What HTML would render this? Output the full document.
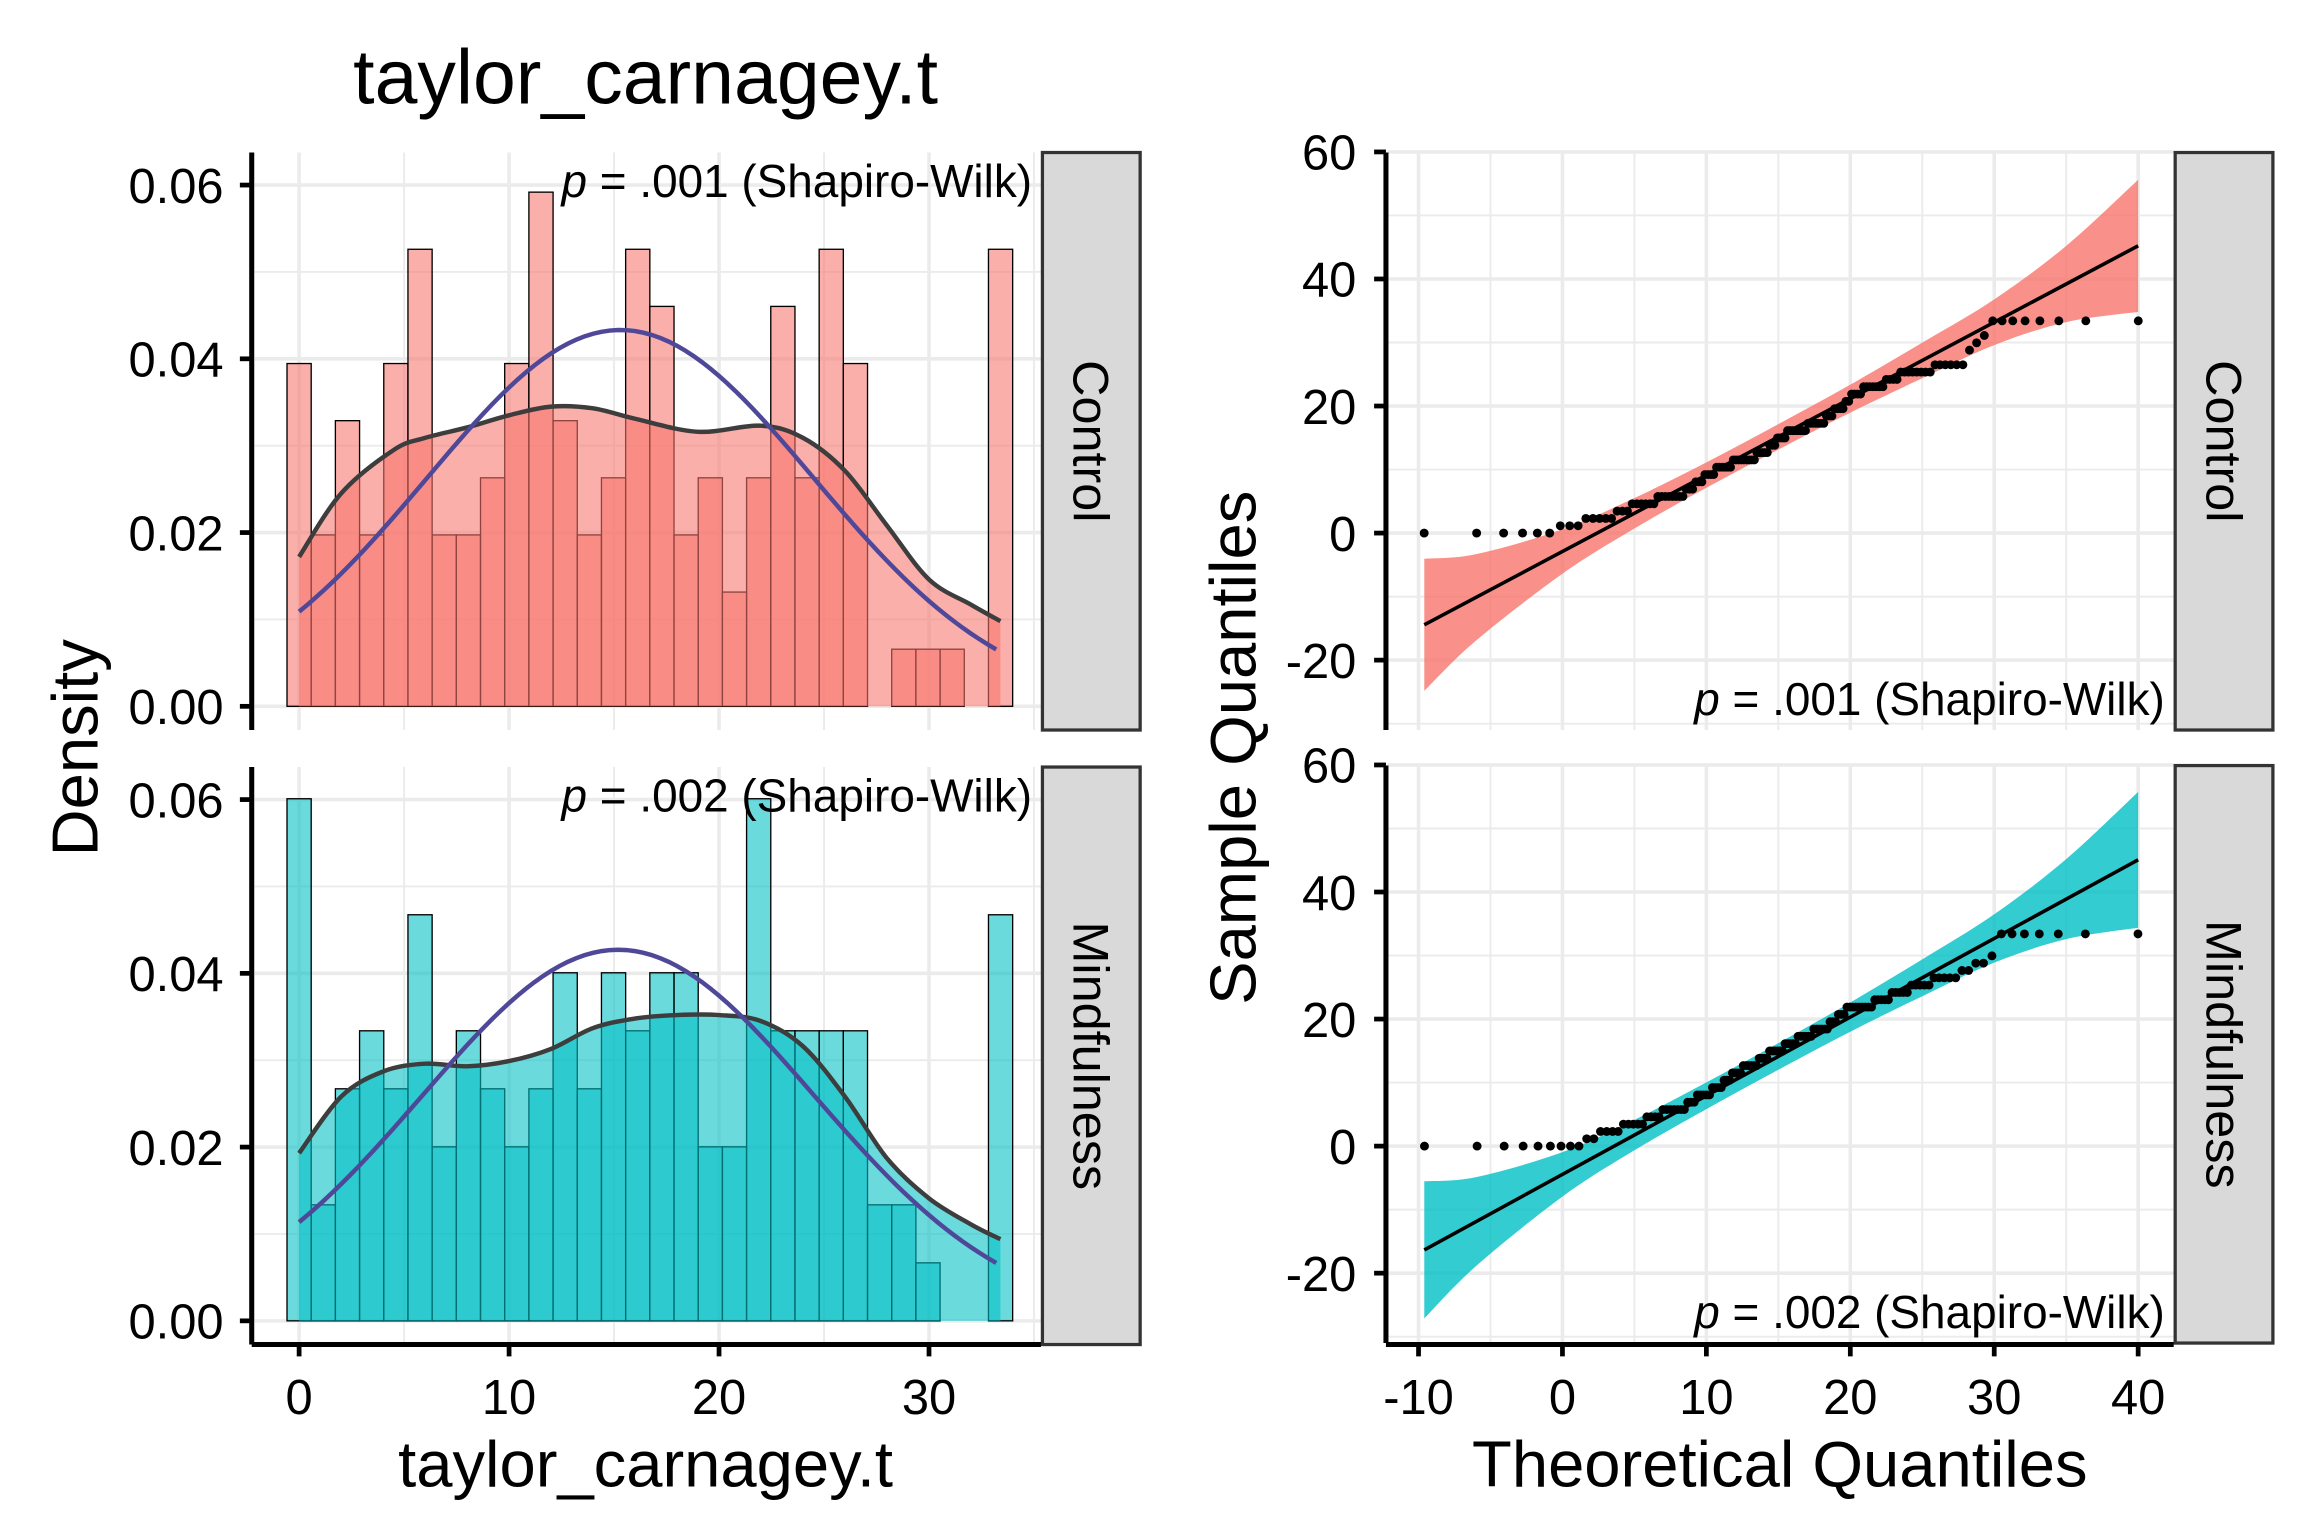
<!DOCTYPE html>
<html><head><meta charset="utf-8"><style>
html,body{margin:0;padding:0;background:#fff;width:2304px;height:1536px;overflow:hidden}
svg{display:block}
text{font-family:"Liberation Sans",sans-serif;fill:#000}
</style></head><body>
<svg id="chart" width="2304" height="1536" viewBox="0 0 1556 1037.3" preserveAspectRatio="none" xmlns="http://www.w3.org/2000/svg"></svg>
<script>
// ---------- data ----------
const groups = ["Control", "Mindfulness"];
const binWidth = 1.152;
const ctrlCounts = [6,3,5,3,6,8,3,3,4,6,9,5,3,4,8,7,3,4,2,4,7,4,8,6,0,1,1,1,0,8];
const mindCounts = [9,2,4,5,4,7,3,5,4,3,4,6,4,6,5,6,6,3,3,9,5,5,5,5,2,2,1,0,0,7];
const ctrlKdeX = [0,2,4.5,6,8,10,12,14,16,19,22,24,26,28,30,32,33.4];
const ctrlKdeY = [0.0172,0.0245,0.0295,0.0309,0.0321,0.0335,0.0345,0.0343,0.0331,0.0316,0.0323,0.0309,0.0271,0.0208,0.0146,0.0117,0.0098];
const mindKdeX = [0,2,4,6,8,10,12,14,16,18,20,22,24,26,28,30,32,33.4];
const mindKdeY = [0.0193,0.0258,0.0287,0.0296,0.0293,0.0299,0.0313,0.0337,0.0348,0.0352,0.0352,0.0345,0.0316,0.0258,0.0187,0.0141,0.0111,0.0094];
const normMean = [15.3, 15.2];
const normSd = [9.21, 9.34];
const qqMean = [15.2, 15.2];
const qqSd = [9.29, 9.3];
const qqIntercept = [-2.9, -4.45];
const qqSlope = [1.203, 1.238];
const bandX = [-9.6,-6,0,5,10,15,20,25,30,35,40];
const ctrlBandHalf = [10.4,6.8,3.5,2.4,2.0,2.0,2.2,2.8,3.6,6.0,10.4];
const mindBandHalf = [10.8,7.0,3.5,2.4,2.1,2.1,2.3,2.9,3.8,6.3,10.7];
const histXTicks = [0,10,20,30];
const histYTicks = [0,0.02,0.04,0.06];
const histYLabels = ["0.00","0.02","0.04","0.06"];
const qqXTicks = [-10,0,10,20,30,40];
const qqYTicks = [-20,0,20,40,60];
const pLabels = ["p = .001 (Shapiro-Wilk)", "p = .002 (Shapiro-Wilk)"];

const NS = "http://www.w3.org/2000/svg";
const svg = document.getElementById("chart");
function el(tag, attrs, parent){ const e=document.createElementNS(NS,tag); for(const k in attrs) e.setAttribute(k,attrs[k]); (parent||svg).appendChild(e); return e; }
function smooth(pts){
  let d="M"+pts[0][0]+","+pts[0][1];
  for(let i=0;i<pts.length-1;i++){
    const p0=pts[i-1]||pts[i], p1=pts[i], p2=pts[i+1], p3=pts[i+2]||p2;
    const c1=[p1[0]+(p2[0]-p0[0])/6,p1[1]+(p2[1]-p0[1])/6], c2=[p2[0]-(p3[0]-p1[0])/6,p2[1]-(p3[1]-p1[1])/6];
    d+=" C"+c1[0]+","+c1[1]+" "+c2[0]+","+c2[1]+" "+p2[0]+","+p2[1];
  }
  return d;
}
function qnorm(p){
  const a=[-39.69683028665376,220.9460984245205,-275.9285104469687,138.3577518672690,-30.66479806614716,2.506628277459239];
  const b=[-54.47609879822406,161.5858368580409,-155.6989798598866,66.80131188771972,-13.28068155288572];
  const c=[-0.007784894002430293,-0.3223964580411365,-2.400758277161838,-2.549732539343734,4.374664141464968,2.938163982698783];
  const d=[0.007784695709041462,0.3224671290700398,2.445134137142996,3.754408661907416];
  let q,r;
  if(p<0.02425){q=Math.sqrt(-2*Math.log(p));return (((((c[0]*q+c[1])*q+c[2])*q+c[3])*q+c[4])*q+c[5])/((((d[0]*q+d[1])*q+d[2])*q+d[3])*q+1);}
  if(p>1-0.02425){q=Math.sqrt(-2*Math.log(1-p));return -(((((c[0]*q+c[1])*q+c[2])*q+c[3])*q+c[4])*q+c[5])/((((d[0]*q+d[1])*q+d[2])*q+d[3])*q+1);}
  q=p-0.5;r=q*q;return (((((a[0]*r+a[1])*r+a[2])*r+a[3])*r+a[4])*r+a[5])*q/(((((b[0]*r+b[1])*r+b[2])*r+b[3])*r+b[4])*r+1);
}
const fills=["#F8766D","#00BFC4"];
const grid="#ebebeb";
const TICK=33, PFS=31, STRIPFS=34, AXFS=44;

// title
let t=el("text",{x:436,y:70,"font-size":52,"text-anchor":"middle"}); t.textContent="taylor_carnagey.t";



// ---------- histograms ----------
const hX0=172,hX1=703;
const hxs=v=>202+v*14.18;
const panelsTop=[103,518];
[ctrlCounts,mindCounts].forEach((counts,gi)=>{
  const top=panelsTop[gi], bot=top+390, y0=top+374;
  const ys=v=>y0-v*5867;
  const g=el("g",{});
  
  
  for(let v=-5;v<=35;v+=5){const x=hxs(v); if(x<hX0||x>hX1)continue; el("line",{x1:x,x2:x,y1:top,y2:bot,stroke:grid,"stroke-width":v%10===0?2.4:1.3},g);}
  for(let v=0;v<=0.065;v+=0.01){const y=ys(v); el("line",{x1:hX0,x2:hX1,y1:y,y2:y,stroke:grid,"stroke-width":Math.round(v*100)%2===0?2.4:1.3},g);}
  const n=counts.reduce((a,b)=>a+b,0);
  counts.forEach((c,k)=>{ if(!c) return;
    const xl=hxs(k*binWidth-binWidth/2), xr=hxs(k*binWidth+binWidth/2), yt=ys(c/(n*binWidth));
    const r=el("rect",{x:xl,y:yt,width:xr-xl,height:y0-yt,fill:fills[gi],"fill-opacity":0.58,stroke:"#000","stroke-width":0.9},g);
    
    
  });
  const kx=gi?mindKdeX:ctrlKdeX, ky=gi?mindKdeY:ctrlKdeY;
  const pts=kx.map((v,i)=>[hxs(v),ys(ky[i])]);
  const dl=smooth(pts);
  const area=el("path",{d:dl+" L"+pts[pts.length-1][0]+","+y0+" L"+pts[0][0]+","+y0+" Z",fill:fills[gi],"fill-opacity":0.58,stroke:"none"},g);
  
  
  const ln=el("path",{d:dl,fill:"none",stroke:"#3d3d3d","stroke-width":3},g);
  
  
  const np=[]; for(let v=0;v<=33.4;v+=0.4){np.push([hxs(v),ys(Math.exp(-Math.pow(v-normMean[gi],2)/(2*normSd[gi]*normSd[gi]))/(normSd[gi]*Math.sqrt(2*Math.PI)))]);}
  const nl=el("path",{d:"M"+np.map(p=>p.join(",")).join(" L"),fill:"none",stroke:"#4F4899","stroke-width":3},g);
  
  
  el("line",{x1:170,x2:170,y1:top,y2:bot,stroke:"#000","stroke-width":3.4},g);
  histYTicks.forEach((v,i)=>{const y=ys(v); el("line",{x1:162,x2:170,y1:y,y2:y,stroke:"#000","stroke-width":3.2},g);
    const tx=el("text",{x:151,y:y+12,"font-size":TICK,"text-anchor":"end"},g); tx.textContent=histYLabels[i];
    
    });
  const pt=el("text",{x:697,y:top+30,"font-size":PFS,"text-anchor":"end"},g);
  pt.innerHTML='<tspan font-style="italic">p</tspan> = '+pLabels[gi].slice(4);
  
  
  const s=el("rect",{x:704,y:top,width:66,height:390,fill:"#d9d9d9",stroke:"#333","stroke-width":2.2},g);
  
  
  const st=el("text",{x:0,y:0,"font-size":STRIPFS,"text-anchor":"middle",transform:"translate(725,"+(top+195)+") rotate(90)",fill:"#1a1a1a"},g);
  st.textContent=groups[gi];
  
  
});
el("line",{x1:170,x2:703,y1:908,y2:908,stroke:"#000","stroke-width":3.4});
histXTicks.forEach(v=>{const x=hxs(v); el("line",{x1:x,x2:x,y1:908,y2:916,stroke:"#000","stroke-width":3.2});
  const tx=el("text",{x:x,y:955,"font-size":TICK,"text-anchor":"middle"}); tx.textContent=v;
  
  });
t=el("text",{x:436,y:1004,"font-size":AXFS,"text-anchor":"middle"}); t.textContent="taylor_carnagey.t";


t=el("text",{x:0,y:0,"font-size":AXFS,"text-anchor":"middle",transform:"translate(66,505) rotate(-90)"}); t.textContent="Density";



// ---------- QQ plots ----------
const qX0=937,qX1=1468;
const qxs=v=>958+(v+10)*9.72;
[ctrlCounts,mindCounts].forEach((counts,gi)=>{
  const top=panelsTop[gi]-(gi?1:0), bot=top+390;
  const zero=gi?774:360;
  const ys=v=>zero-v*4.29;
  const g=el("g",{});
  
  
  for(let v=-15;v<=45;v+=5){const x=qxs(v); if(x<qX0||x>qX1)continue; el("line",{x1:x,x2:x,y1:top,y2:bot,stroke:grid,"stroke-width":v%10===0?2.4:1.3},g);}
  for(let v=-30;v<=60;v+=10){const y=ys(v); if(y<top-1||y>bot)continue; el("line",{x1:qX0,x2:qX1,y1:y,y2:y,stroke:grid,"stroke-width":v%20===0?2.4:1.3},g);}
  const half=gi?mindBandHalf:ctrlBandHalf;
  const up=bandX.map((v,i)=>[qxs(v),ys(qqIntercept[gi]+qqSlope[gi]*v+half[i])]);
  const lo=bandX.map((v,i)=>[qxs(v),ys(qqIntercept[gi]+qqSlope[gi]*v-half[i])]).reverse();
  const band=el("path",{d:smooth(up)+" L"+lo[0][0]+","+lo[0][1]+smooth(lo).replace(/^M[^C]*/," ")+" Z",fill:fills[gi],"fill-opacity":0.8,stroke:"none"},g);
  
  
  const xa=bandX[0], xb=bandX[bandX.length-1];
  const ql=el("line",{x1:qxs(xa),y1:ys(qqIntercept[gi]+qqSlope[gi]*xa),x2:qxs(xb),y2:ys(qqIntercept[gi]+qqSlope[gi]*xb),stroke:"#000","stroke-width":2.4},g);
  
  
  const n=counts.reduce((a,b)=>a+b,0);
  const sample=[]; counts.forEach((c,k)=>{for(let j=0;j<c;j++) sample.push(k*binWidth);});
  sample.forEach((v,i)=>{const tq=qqMean[gi]+qqSd[gi]*qnorm((i+0.5)/n);
    const c=el("circle",{cx:qxs(tq),cy:ys(v),r:3,fill:"#000"},g);
    
    });
  el("line",{x1:936,x2:936,y1:top,y2:bot,stroke:"#000","stroke-width":3.4},g);
  qqYTicks.forEach(v=>{const y=ys(v); if(y<top-2)return; el("line",{x1:928,x2:936,y1:y,y2:y,stroke:"#000","stroke-width":3.2},g);
    const tx=el("text",{x:916,y:y+12,"font-size":TICK,"text-anchor":"end"},g); tx.textContent=v;
    
    });
  const pt=el("text",{x:1462,y:bot-10,"font-size":PFS,"text-anchor":"end"},g);
  pt.innerHTML='<tspan font-style="italic">p</tspan> = '+pLabels[gi].slice(4);
  
  
  const s=el("rect",{x:1469,y:top,width:66,height:390,fill:"#d9d9d9",stroke:"#333","stroke-width":2.2},g);
  
  
  const st=el("text",{x:0,y:0,"font-size":STRIPFS,"text-anchor":"middle",transform:"translate(1490,"+(top+195)+") rotate(90)",fill:"#1a1a1a"},g);
  st.textContent=groups[gi];
  
  
});
el("line",{x1:936,x2:1468,y1:908,y2:908,stroke:"#000","stroke-width":3.4});
qqXTicks.forEach(v=>{const x=qxs(v); el("line",{x1:x,x2:x,y1:908,y2:916,stroke:"#000","stroke-width":3.2});
  const tx=el("text",{x:x,y:955,"font-size":TICK,"text-anchor":"middle"}); tx.textContent=v;
  
  });
t=el("text",{x:1202,y:1004,"font-size":AXFS,"text-anchor":"middle"}); t.textContent="Theoretical Quantiles";


t=el("text",{x:0,y:0,"font-size":AXFS,"text-anchor":"middle",transform:"translate(848,505) rotate(-90)"}); t.textContent="Sample Quantiles";


</script>
</body></html>
